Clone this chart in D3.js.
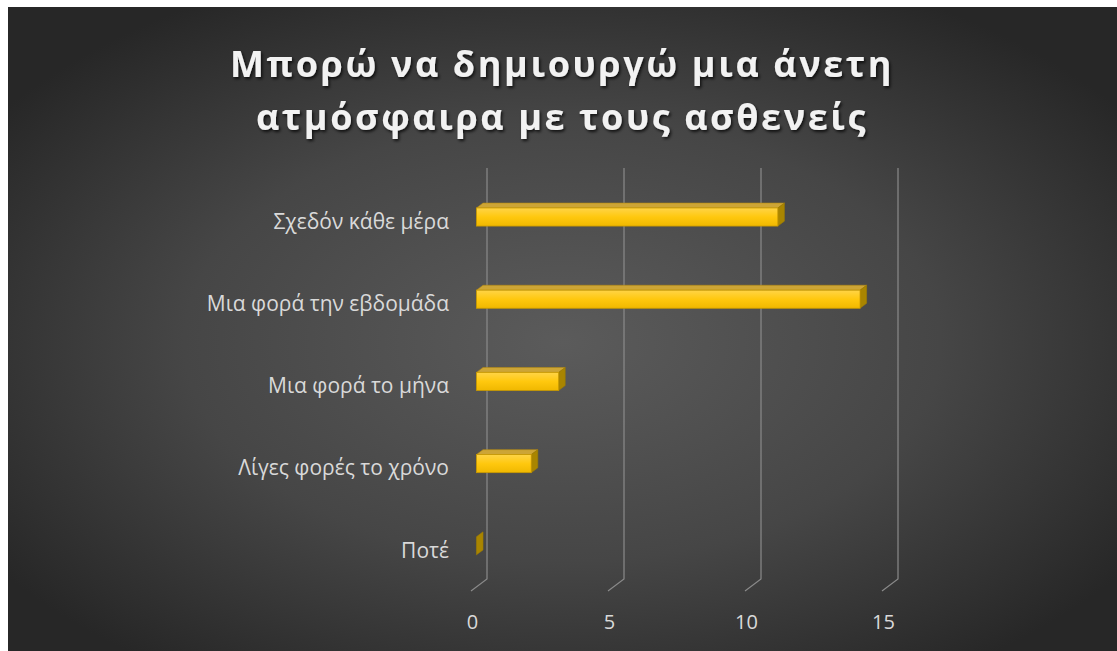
<!DOCTYPE html>
<html>
<head>
<meta charset="utf-8">
<script src="https://cdn.jsdelivr.net/npm/d3@7"></script>
<style>
  html, body { margin: 0; padding: 0; background: #fff; }
  svg { display: block; }
  text { font-family: "Open Sans", "DejaVu Sans", sans-serif; }
</style>
</head>
<body>
<svg id="chart" width="1117" height="651"></svg>
<script>
// Survey answers and counts
const categories = [
  "Σχεδόν κάθε μέρα",
  "Μια φορά την εβδομάδα",
  "Μια φορά το μήνα",
  "Λίγες φορές το χρόνο",
  "Ποτέ"
];
const counts = [11, 14, 3, 2, 0];
const tickValues = [0, 5, 10, 15];
const titleLines = ["Μπορώ να δημιουργώ μια άνετη", "ατμόσφαιρα με τους ασθενείς"];

const svg = d3.select("#chart");
const W = 1117, H = 651;

// ----- defs: background, bar shading, title shadow -----
const defs = svg.append("defs");
const bg = defs.append("radialGradient").attr("id", "bgGrad")
  .attr("cx", "0.5").attr("cy", "0.52").attr("r", "0.62");
bg.append("stop").attr("offset", "0").attr("stop-color", "#5b5b5b");
bg.append("stop").attr("offset", "0.55").attr("stop-color", "#464646");
bg.append("stop").attr("offset", "1").attr("stop-color", "#272727");

const front = defs.append("linearGradient").attr("id", "barFront")
  .attr("x1", 0).attr("y1", 0).attr("x2", 0).attr("y2", 1);
front.append("stop").attr("offset", "0").attr("stop-color", "#ffd447");
front.append("stop").attr("offset", "0.5").attr("stop-color", "#ffc80e");
front.append("stop").attr("offset", "1").attr("stop-color", "#f0b800");

const shadow = defs.append("filter").attr("id", "titleShadow")
  .attr("x", "-10%").attr("y", "-30%").attr("width", "120%").attr("height", "160%");
shadow.append("feDropShadow").attr("dx", 1.5).attr("dy", 2).attr("stdDeviation", 1.6)
  .attr("flood-color", "#000").attr("flood-opacity", 0.75);

// ----- background panel -----
svg.append("rect").attr("x", 8).attr("y", 7).attr("width", W - 8).attr("height", H - 7)
  .attr("fill", "url(#bgGrad)");

// ----- title -----
const title = svg.append("text")
  .attr("text-anchor", "middle")
  .attr("fill", "#f2f2f2")
  .attr("font-weight", "bold")
  .attr("font-size", 36)
  .attr("letter-spacing", "2.6px")
  .attr("filter", "url(#titleShadow)");
titleLines.forEach((line, i) => {
  title.append("tspan").attr("x", 562).attr("y", 77 + i * 53).text(line);
});

// ----- 3D plot geometry -----
// back wall plane
const plotTop = 168, plotBottom = 579;
const x = d3.scaleLinear().domain([0, 15]).range([487, 898]);
const y = d3.scaleBand().domain(categories).range([plotTop, plotBottom])
  .paddingInner(0.78).paddingOuter(0.39);
// depth vector from back wall to front edge of the floor
const depthX = -16, depthY = 12;
const dFront = 0.66, dBack = 0.25;   // bar faces within the depth
const off = d => [depthX * d, depthY * d];

// gridlines on the back wall plus their floor returns
const grid = svg.append("g").attr("stroke", "#8a8a8a").attr("stroke-width", 1.2).attr("fill", "none");
tickValues.forEach(v => {
  const gx = x(v);
  grid.append("path").attr("d",
    `M${gx},${plotTop} L${gx},${plotBottom} L${gx + depthX},${plotBottom + depthY}`);
});

// bars: top face, end face, front face
const bars = svg.append("g").selectAll("g").data(categories.map((c, i) => ({ c, v: counts[i] })))
  .join("g");
bars.each(function (d) {
  const g = d3.select(this);
  const [fx, fy] = off(dFront), [bx, by] = off(dBack);
  const y0 = y(d.c), h = y.bandwidth();
  const x0 = x(0), x1 = x(d.v);
  // top face
  if (d.v > 0) {
    g.append("path").attr("d",
      `M${x0 + fx},${y0 + fy} L${x1 + fx},${y0 + fy} L${x1 + bx},${y0 + by} L${x0 + bx},${y0 + by}Z`)
      .attr("fill", "#cda536").attr("stroke", "#b58b10").attr("stroke-width", 0.6);
  }
  // end face
  g.append("path").attr("d",
    `M${x1 + fx},${y0 + fy} L${x1 + bx},${y0 + by} L${x1 + bx},${y0 + by + h} L${x1 + fx},${y0 + fy + h}Z`)
    .attr("fill", "#a98500").attr("stroke", "#a07c00").attr("stroke-width", 0.6);
  // front face
  if (d.v > 0) {
    g.append("rect").attr("x", x0 + fx).attr("y", y0 + fy)
      .attr("width", x1 - x0).attr("height", h)
      .attr("fill", "url(#barFront)").attr("stroke", "#c99a00").attr("stroke-width", 0.8);
  }
});

// ----- axes (labels only) -----
const yLabel = d3.scaleBand().domain(categories)
  .range([plotTop + depthY + 1, plotBottom + depthY + 1]);
const yAxis = svg.append("g").attr("transform", "translate(449,0)")
  .call(d3.axisLeft(yLabel).tickSize(0).tickPadding(0));
yAxis.select(".domain").remove();
yAxis.selectAll("text").attr("fill", "#d9d9d9").attr("font-size", 21)
  .attr("font-family", "'Open Sans', sans-serif");

const xFront = d3.scaleLinear().domain(x.domain()).range(x.range().map(r => r + depthX + 1));
const xAxis = svg.append("g").attr("transform", "translate(0,606)")
  .call(d3.axisBottom(xFront).tickValues(tickValues).tickSize(0).tickPadding(9));
xAxis.select(".domain").remove();
xAxis.selectAll("text").attr("fill", "#d9d9d9").attr("font-size", 20)
  .attr("font-family", "'Open Sans', sans-serif");
</script>
</body>
</html>
